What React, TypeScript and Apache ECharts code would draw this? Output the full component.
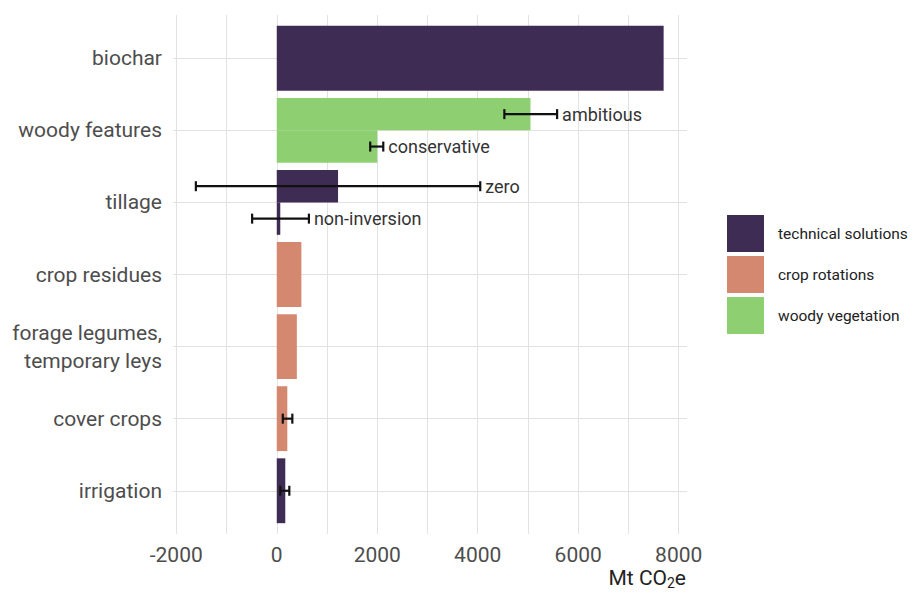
import React, { useEffect, useRef } from "react";
import * as echarts from "echarts";

// Categories, top to bottom
const categories = [
  "biochar",
  "woody features",
  "tillage",
  "crop residues",
  "forage legumes,\ntemporary leys",
  "cover crops",
  "irrigation",
];

// Bars
const barCategory = [
  "biochar",
  "woody features",
  "woody features",
  "tillage",
  "tillage",
  "crop residues",
  "forage legumes,\ntemporary leys",
  "cover crops",
  "irrigation",
];
const barVariant = ["", "ambitious", "conservative", "zero", "non-inversion", "", "", "", ""];
const barValue = [7700, 5050, 2000, 1220, 70, 490, 400, 210, 170];
const barGroup = [
  "technical solutions",
  "woody vegetation",
  "woody vegetation",
  "technical solutions",
  "technical solutions",
  "crop rotations",
  "crop rotations",
  "crop rotations",
  "technical solutions",
];
const errLow: (number | null)[] = [null, 4530, 1860, -1610, -490, null, null, 120, 70];
const errHigh: (number | null)[] = [null, 5580, 2120, 4050, 640, null, null, 310, 250];

const groups = ["technical solutions", "crop rotations", "woody vegetation"];
const groupColors = ["#3f2c55", "#d4886f", "#8ecf72"];

const xTicks = [-2000, -1000, 0, 1000, 2000, 3000, 4000, 5000, 6000, 7000, 8000];
const xLabels = [-2000, 0, 2000, 4000, 6000, 8000];

const FONT = "Roboto, 'Liberation Sans', sans-serif";

function slotOf(i: number): number {
  const cat = barCategory[i];
  const idxs = barCategory.map((c, j) => (c === cat ? j : -1)).filter((j) => j >= 0);
  if (idxs.length < 2) return 0;
  return idxs.indexOf(i) === 0 ? -1 : 1;
}

export default function App() {
  const ref = useRef<HTMLDivElement>(null);
  useEffect(() => {
    if (!ref.current) return;
    const chart = echarts.init(ref.current, null, { renderer: "svg" });

    const barSeries = groups.map((g, gi) => ({
      type: "custom",
      name: g,
      itemStyle: { color: groupColors[gi] },
      data: barValue
        .map((v, i) => ({ v, i }))
        .filter((d) => barGroup[d.i] === g)
        .map((d) => [d.v, categories.indexOf(barCategory[d.i]), slotOf(d.i)]),
      renderItem: (params: any, api: any) => {
        const v = api.value(0);
        const c = api.value(1);
        const s = api.value(2);
        const y0 = s === 0 ? c - 0.45 : s < 0 ? c - 0.45 : c;
        const y1 = s === 0 ? c + 0.45 : s < 0 ? c : c + 0.45;
        const a = api.coord([0, y0]);
        const b = api.coord([v, y1]);
        return {
          type: "rect",
          shape: {
            x: Math.min(a[0], b[0]),
            y: Math.min(a[1], b[1]),
            width: Math.abs(b[0] - a[0]),
            height: Math.abs(b[1] - a[1]),
          },
          style: { fill: groupColors[gi] },
        };
      },
    }));

    const errData = barValue
      .map((_, i) => i)
      .filter((i) => errLow[i] !== null)
      .map((i) => [errLow[i], errHigh[i], categories.indexOf(barCategory[i]), slotOf(i), i]);

    const errSeries = {
      type: "custom",
      name: "error",
      z: 5,
      data: errData,
      renderItem: (params: any, api: any) => {
        const lo = api.value(0);
        const hi = api.value(1);
        const c = api.value(2);
        const s = api.value(3);
        const idx = api.value(4);
        const y = c + s * 0.225;
        const p0 = api.coord([lo, y]);
        const p1 = api.coord([hi, y]);
        const h = 5;
        const st = { stroke: "#111", lineWidth: 2.2 };
        const children: any[] = [
          { type: "line", shape: { x1: p0[0], y1: p0[1], x2: p1[0], y2: p1[1] }, style: st },
          { type: "line", shape: { x1: p0[0], y1: p0[1] - h, x2: p0[0], y2: p0[1] + h }, style: st },
          { type: "line", shape: { x1: p1[0], y1: p1[1] - h, x2: p1[0], y2: p1[1] + h }, style: st },
        ];
        const label = barVariant[idx];
        if (label) {
          children.push({
            type: "text",
            x: p1[0] + 5,
            y: p1[1],
            style: {
              text: label,
              fill: "#333",
              fontSize: 18,
              fontFamily: FONT,
              verticalAlign: "middle",
              align: "left",
            },
          });
        }
        return { type: "group", children };
      },
    };

    chart.setOption({
      animation: false,
      textStyle: { fontFamily: FONT },
      grid: { left: 173, right: 228, top: 15, bottom: 65, outerBoundsMode: "none" },
      legend: {
        data: groups,
        orient: "vertical",
        left: 727,
        top: 215,
        padding: 0,
        icon: "rect",
        itemWidth: 37,
        itemHeight: 37,
        itemGap: 4,
        selectedMode: false,
        textStyle: { fontSize: 15.5, color: "#222", fontFamily: FONT, padding: [0, 0, 0, 9] },
      },
      xAxis: {
        type: "value",
        min: -2065,
        max: 8165,
        axisLine: { show: false },
        axisTick: { show: false, customValues: xTicks },
        axisLabel: {
          customValues: xLabels,
          formatter: (v: number) => String(v),
          fontSize: 21,
          color: "#4d4d4d",
          margin: 10,
          fontFamily: FONT,
        },
        splitLine: { show: true, lineStyle: { color: "#e2e2e2", width: 1 } },
      },
      yAxis: {
        type: "value",
        inverse: true,
        min: -0.6,
        max: 6.6,
        axisLine: { show: false },
        axisTick: { show: false, customValues: [0, 1, 2, 3, 4, 5, 6] },
        axisLabel: {
          customValues: [0, 1, 2, 3, 4, 5, 6],
          formatter: (v: number) => categories[Math.round(v)] ?? "",
          fontSize: 21,
          lineHeight: 28,
          color: "#4d4d4d",
          margin: 11,
          align: "right",
          fontFamily: FONT,
        },
        splitLine: { show: true, lineStyle: { color: "#e2e2e2", width: 1 } },
      },
      graphic: [
        {
          type: "text",
          right: 915 - 686,
          top: 567,
          style: {
            text: "Mt CO{sub|2}e",
            fill: "#222",
            fontSize: 21,
            fontFamily: FONT,
            rich: {
              sub: { fontSize: 14, verticalAlign: "bottom", padding: [10, 0, 0, 0], fill: "#222", fontFamily: FONT },
            },
          },
        },
      ],
      series: [...barSeries, errSeries],
    });

    return () => chart.dispose();
  }, []);

  return (
    <div
      ref={ref}
      style={{ position: "fixed", left: 0, top: 0, width: 915, height: 599, background: "#fff" }}
    />
  );
}
